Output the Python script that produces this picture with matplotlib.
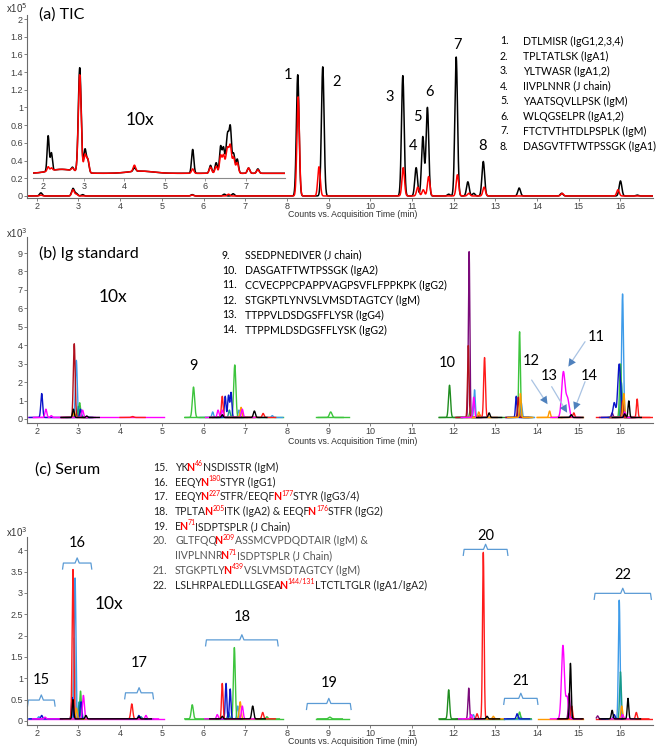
import numpy as np
import matplotlib
matplotlib.use('Agg')
import matplotlib.pyplot as plt

W, H = 663, 750
TXT_FONT = 'Lato'
TICK_FONT = 'Liberation Sans'

COLORS = {'k': '#000000', 'red': '#FF1A1A', 'darkred': '#B0101E', 'blue': '#0A14C8',
          'skyblue': '#3D9BE9', 'green': '#3CC43C', 'dkgreen': '#1E8C1E',
          'magenta': '#FF00FF', 'orange': '#FF9A00', 'purple': '#7A0A7A',
          'teal': '#169A8A', 'gray': '#A8A8A8'}
DRAW_ORDER = ['gray', 'purple', 'skyblue', 'dkgreen', 'green', 'teal', 'blue',
              'darkred', 'red', 'orange', 'magenta', 'k']

# ---------------- (a) TIC: peaks (retention time, height x1e5) ----------------
a_black_rt = [2.10, 2.87, 2.95, 3.10, 5.73, 6.50, 6.71, 8.26, 8.86, 10.78, 11.10, 11.26,
              11.37, 11.88, 12.06, 12.34, 12.48, 12.71, 13.57, 14.59, 16.00, 16.40]
a_black_h = [0.035, 0.085, 0.03, 0.015, 0.015, 0.02, 0.025, 1.37, 1.46, 1.36, 0.32, 0.67,
             1.00, 0.02, 1.57, 0.16, 0.03, 0.39, 0.09, 0.03, 0.17, 0.01]
a_red_rt = [2.10, 2.87, 2.95, 5.73, 6.60, 8.27, 8.77, 10.79, 11.14, 11.27, 11.40, 12.09,
            12.36, 12.73, 14.60, 15.94]
a_red_h = [0.01, 0.07, 0.02, 0.01, 0.02, 1.12, 0.33, 0.32, 0.10, 0.07, 0.22, 0.24,
           0.03, 0.10, 0.03, 0.07]

# inset "10x" (values on the panel-a scale)
ins_base = 0.256
ins_rt = [2.45, 4.40, 2.12, 2.20, 2.72, 2.90, 3.03, 3.10, 4.25, 5.69, 6.13, 6.27,
          6.38, 6.45, 6.52, 6.56, 6.62, 6.70, 6.79, 7.07, 7.30]
ins_black_h = [0.045, 0.025, 0.40, 0.20, 0.04, 1.18, 0.26, 0.14, 0.04, 0.27, 0.09, 0.12,
               0.30, 0.28, 0.18, 0.36, 0.50, 0.22, 0.16, 0.06, 0.05]
ins_red_h = [0.045, 0.025, 0.05, 0.03, 0.03, 1.10, 0.20, 0.15, 0.07, 0.05, 0.07, 0.08,
             0.20, 0.20, 0.14, 0.22, 0.30, 0.18, 0.12, 0.06, 0.04]
ins_sigma = [0.30, 0.30, 0.025, 0.025, 0.03, 0.035, 0.03, 0.03, 0.03, 0.028, 0.03, 0.03,
             0.028, 0.028, 0.028, 0.028, 0.028, 0.03, 0.03, 0.03, 0.03]

a_peak_labels = ['1', '2', '3', '4', '5', '6', '7', '8']
a_label_x = [8.03, 9.18, 10.47, 11.02, 11.14, 11.41, 12.10, 12.68]
a_label_y = [1.37, 1.29, 1.12, 0.565, 0.89, 1.175, 1.706, 0.565]
a_legend = ['DTLMISR (IgG1,2,3,4)', 'TPLTATLSK (IgA1)', 'YLTWASR (IgA1,2)',
            'IIVPLNNR (J chain)', 'YAATSQVLLPSK (IgM)', 'WLQGSELPR (IgA1,2)',
            'FTCTVTHTDLPSPLK (IgM)', 'DASGVTFTWTPSSGK (IgA1)']

# ---------------- (b) Ig standard: (colour, rt, height x1e3, sigma) ----------------
b_segments = [(1.80, 5.05), (5.55, 7.90), (8.70, 9.50), (11.65, 13.20),
              (13.25, 13.93), (14.00, 15.10), (15.42, 16.78)]
b_seg_base = ['magenta', 'green', 'green', 'dkgreen', 'skyblue', 'orange', 'red']
b_base = 0.08
b_peaks = [
    ('blue', 2.12, 1.30, .022), ('magenta', 2.22, 0.45, .022), ('magenta', 2.35, 0.10, .02),
    ('k', 2.88, 0.45, .020), ('darkred', 2.90, 4.00, .022), ('orange', 2.90, 0.30, .02),
    ('skyblue', 2.95, 3.10, .022), ('teal', 3.00, 0.60, .02), ('green', 3.03, 0.80, .02),
    ('blue', 3.05, 0.45, .020), ('magenta', 3.10, 0.40, .022), ('k', 3.20, 0.08, .02),
    ('red', 4.30, 0.05, .030),
    ('green', 5.76, 1.65, .027), ('skyblue', 6.22, 0.30, .02), ('magenta', 6.35, 0.40, .022),
    ('red', 6.45, 1.15, .020), ('magenta', 6.45, 0.40, .022), ('blue', 6.52, 1.15, .02),
    ('blue', 6.60, 1.20, .020), ('teal', 6.62, 0.40, .020), ('blue', 6.66, 1.35, .02),
    ('green', 6.75, 2.85, .026), ('skyblue', 6.85, 0.40, .02), ('orange', 6.90, 0.55, .022),
    ('magenta', 6.93, 0.45, .022), ('k', 7.22, 0.35, .024), ('red', 7.43, 0.22, .022),
    ('k', 6.45, 0.15, .020), ('skyblue', 7.65, 0.10, .02),
    ('green', 9.05, 0.30, .030),
    ('dkgreen', 11.90, 1.75, .024), ('green', 12.40, 0.40, .02), ('purple', 12.37, 9.00, .018),
    ('darkred', 12.35, 3.90, .018), ('skyblue', 12.50, 1.50, .018), ('magenta', 12.48, 1.10, .02),
    ('orange', 12.60, 0.30, .02), ('red', 12.62, 0.15, .02), ('red', 12.74, 3.25, .021),
    ('k', 12.85, 0.25, .02),
    ('blue', 13.50, 1.15, .018), ('darkred', 13.55, 1.10, .018), ('green', 13.58, 4.65, .019),
    ('skyblue', 13.62, 0.80, .02), ('orange', 13.60, 1.30, .018),
    ('orange', 14.30, 0.35, .02), ('magenta', 14.63, 2.45, .040), ('magenta', 14.73, 1.00, .04),
    ('k', 14.82, 0.15, .02), ('red', 14.88, 0.25, .02), ('skyblue', 14.80, 0.10, .02),
    ('purple', 15.80, 0.25, .02), ('blue', 15.85, 0.80, .03), ('blue', 15.97, 2.90, .035),
    ('green', 16.00, 2.90, .022), ('teal', 16.02, 1.90, .02), ('skyblue', 16.05, 6.70, .022),
    ('darkred', 16.05, 0.90, .02), ('orange', 16.08, 1.30, .02), ('magenta', 16.10, 0.30, .02),
    ('k', 16.10, 0.20, .02), ('k', 16.20, 0.90, .018), ('red', 16.40, 1.00, .018),
]
b_peak_labels = ['9', '10', '12', '13', '14', '11']
b_label_x = [5.77, 11.85, 13.85, 14.29, 15.24, 15.41]
b_label_y = [2.87, 3.02, 3.15, 2.35, 2.35, 4.46]
b_arrow_from = [(13.87, 2.11), (14.35, 1.75), (15.15, 2.02), (15.15, 4.19)]
b_arrow_to = [(14.25, 0.80), (14.72, 0.34), (14.89, 0.49), (14.75, 2.84)]
b_legend_num = ['9.', '10.', '11.', '12.', '13.', '14.']
b_legend = ['SSEDPNEDIVER (J chain)', 'DASGATFTWTPSSGK (IgA2)',
            'CCVECPPCPAPPVAGPSVFLFPPKPK (IgG2)', 'STGKPTLYNVSLVMSDTAGTCY (IgM)',
            'TTPPVLDSDGSFFLYSR (IgG4)', 'TTPPMLDSDGSFFLYSK (IgG2)']

# ---------------- (c) Serum ----------------
c_segments = [(1.80, 5.05), (5.55, 7.90), (8.70, 9.50), (11.65, 13.20),
              (13.20, 13.86), (14.02, 15.10), (15.42, 16.78)]
c_seg_base = ['magenta', 'green', 'green', 'dkgreen', 'skyblue', 'orange', 'red']
c_base = 0.05
c_peaks = [
    ('skyblue', 2.05, 0.05, .02), ('blue', 2.12, 0.08, .02), ('magenta', 2.20, 0.04, .02),
    ('gray', 2.90, 1.90, .025), ('blue', 2.85, 0.50, .018), ('k', 2.87, 0.45, .018),
    ('red', 2.87, 3.50, .020), ('skyblue', 2.92, 3.30, .020), ('orange', 2.95, 0.25, .02),
    ('teal', 3.02, 0.40, .02), ('green', 3.05, 0.65, .02), ('blue', 3.06, 0.40, .02),
    ('magenta', 3.12, 0.55, .022), ('k', 3.18, 0.08, .02), ('red', 4.28, 0.35, .024),
    ('blue', 4.45, 0.08, .02), ('teal', 4.50, 0.05, .02), ('k', 4.45, 0.05, .02),
    ('magenta', 4.62, 0.08, .02),
    ('green', 5.73, 0.33, .025), ('magenta', 6.33, 0.10, .02), ('red', 6.45, 0.83, .018),
    ('k', 6.45, 0.06, .02), ('blue', 6.54, 0.83, .018), ('teal', 6.60, 0.15, .02),
    ('blue', 6.64, 0.70, .018), ('green', 6.74, 1.67, .022), ('skyblue', 6.82, 0.30, .02),
    ('orange', 6.88, 0.40, .022), ('magenta', 6.93, 0.30, .022), ('k', 7.18, 0.30, .024),
    ('red', 7.42, 0.15, .022), ('green', 7.52, 0.05, .02),
    ('green', 9.03, 0.04, .03),
    ('dkgreen', 11.88, 0.68, .022), ('purple', 12.36, 0.72, .018), ('magenta', 12.42, 0.10, .02),
    ('skyblue', 12.47, 0.10, .02), ('red', 12.56, 0.12, .02), ('red', 12.71, 3.90, .019),
    ('k', 12.80, 0.06, .02), ('orange', 12.95, 0.06, .02),
    ('blue', 13.52, 0.12, .02), ('green', 13.58, 0.16, .02), ('skyblue', 13.60, 0.05, .02),
    ('magenta', 14.62, 1.72, .035), ('magenta', 14.72, 0.50, .03), ('purple', 14.77, 0.60, .02),
    ('k', 14.80, 1.30, .019), ('red', 14.83, 0.30, .02),
    ('purple', 15.45, 0.07, .02), ('blue', 15.85, 0.10, .02), ('k', 15.80, 0.20, .02),
    ('skyblue', 15.97, 2.78, .02), ('teal', 16.00, 1.10, .02), ('orange', 16.03, 0.30, .02),
    ('magenta', 16.05, 0.10, .02), ('k', 16.18, 0.48, .018), ('red', 16.38, 0.15, .02),
]
c_bracket_labels = ['15', '16', '17', '18', '19', '20', '21', '22']
c_bracket_left = [1.78, 2.62, 4.11, 6.05, 8.47, 12.23, 13.20, 15.37]
c_bracket_right = [2.44, 3.32, 4.80, 7.79, 9.54, 13.30, 14.02, 16.74]
c_bracket_y = [0.49, 3.70, 0.66, 1.90, 0.41, 4.02, 0.53, 2.99]
c_bracket_text_y = [0.96, 4.18, 1.35, 2.44, 0.88, 4.33, 0.94, 3.42]
c_legend_num = ['15.', '16.', '17.', '18.', '19.', '20.', '', '21.', '22.']
c_legend = [
    [('YK', 'n'), ('N', 'N'), ('46', 's'), ('NSDISSTR (IgM)', 'n')],
    [('EEQY', 'n'), ('N', 'N'), ('180', 's'), ('STYR (IgG1)', 'n')],
    [('EEQY', 'n'), ('N', 'N'), ('227', 's'), ('STFR/EEQF', 'n'), ('N', 'N'), ('177', 's'),
     ('STYR (IgG3/4)', 'n')],
    [('TPLTA', 'n'), ('N', 'N'), ('205', 's'), ('ITK (IgA2) & EEQF', 'n'), ('N', 'N'),
     ('176', 's'), ('STFR (IgG2)', 'n')],
    [('E', 'n'), ('N', 'N'), ('71', 's'), ('ISDPTSPLR (J Chain)', 'n')],
    [('GLTFQQ', 'n'), ('N', 'N'), ('209', 's'), ('ASSMCVPDQDTAIR (IgM) &', 'n')],
    [('IIVPLNNR', 'n'), ('N', 'N'), ('71', 's'), ('ISDPTSPLR (J Chain)', 'n')],
    [('STGKPTLY', 'n'), ('N', 'N'), ('439', 's'), ('VSLVMSDTAGTCY (IgM)', 'n')],
    [('LSLHRPALEDLLLGSEA', 'n'), ('N', 'N'), ('144/131', 's'), ('LTCTLTGLR (IgA1/IgA2)', 'n')],
]
c_legend_color = ['#222222', '#222222', '#222222', '#222222', '#222222',
                  '#555555', '#555555', '#555555', '#222222']

XLIM = (1.767, 16.78)


def gauss_sum(x, rts, hs, sigmas):
    y = np.zeros_like(x)
    for rt, h, s in zip(rts, hs, sigmas):
        y += h * np.exp(-0.5 * ((x - rt) / s) ** 2)
    return y


def style_axes(ax, yticks, ylabels):
    for sp in ['top', 'right']:
        ax.spines[sp].set_visible(False)
    for sp in ['left', 'bottom']:
        ax.spines[sp].set_color('#6b6b6b')
        ax.spines[sp].set_linewidth(0.8)
    ax.set_xlim(*XLIM)
    ax.set_xticks(range(2, 17))
    ax.set_yticks(yticks)
    ax.set_yticklabels(ylabels)
    ax.tick_params(axis='both', length=2, width=0.6, color='#6b6b6b', pad=1,
                   labelsize=6.5, labelcolor='#404040')
    for lab in ax.get_xticklabels() + ax.get_yticklabels():
        lab.set_family(TICK_FONT)
    ax.patch.set_alpha(0)


def xlabel(ax, ytop):
    ax.set_xlabel('Counts vs. Acquisition Time (min)', fontsize=6.3, color='#333333',
                  family=TICK_FONT)
    ax.xaxis.set_label_coords(0.52, ytop)


def draw_segments(ax, segments, seg_base, peaks, base):
    for (s0, s1), bcol in zip(segments, seg_base):
        ax.plot([s0, s1], [base, base], color=COLORS[bcol], lw=1.0)
        for col in DRAW_ORDER:
            pk = [p for p in peaks if p[0] == col and s0 <= p[1] <= s1]
            if not pk:
                continue
            lo = max(s0, min(p[1] for p in pk) - 0.3)
            hi = min(s1, max(p[1] for p in pk) + 0.3)
            x = np.linspace(lo, hi, 800)
            y = base + gauss_sum(x, [p[1] for p in pk], [p[2] for p in pk],
                                 [p[3] for p in pk])
            ax.plot(x, y, color=COLORS[col], lw=1.0)


def px(x, y):
    return x / W, 1 - y / H


fig = plt.figure(figsize=(W / 100, H / 100), dpi=100)

# ================= (a) =================
axa = fig.add_axes([27 / W, 1 - 198 / H, 626 / W, 183.4 / H])
xa = np.linspace(1.8, 16.78, 6000)
axa.plot(xa, gauss_sum(xa, a_black_rt, a_black_h, [0.032] * len(a_black_rt)),
         color='k', lw=1.1)
axa.plot(xa, gauss_sum(xa, a_red_rt, a_red_h, [0.03] * len(a_red_rt)),
         color='#FF0000', lw=1.1)
axa.set_ylim(-0.023, 2.05)
style_axes(axa, np.arange(0, 2.01, 0.2), ['0', '0.2', '0.4', '0.6', '0.8', '1', '1.2',
                                           '1.4', '1.6', '1.8', '2'])
xlabel(axa, -0.068)
for t, x, y in zip(a_peak_labels, a_label_x, a_label_y):
    axa.text(x, y, t, fontsize=10.5, family=TXT_FONT, ha='center', va='center')

axi = fig.add_axes([33.3 / W, 1 - 178 / H, (285 - 33.3) / W, (178 - 40) / H])
xi = np.linspace(1.76, 7.96, 3000)
axi.plot(xi, ins_base + gauss_sum(xi, ins_rt, ins_black_h, ins_sigma), color='k', lw=1.1)
axi.plot(xi, ins_base + gauss_sum(xi, ins_rt, ins_red_h, ins_sigma), color='#FF0000', lw=1.1)
axi.set_xlim(1.753, 7.97)
axi.set_ylim(0.203, 1.763)
for sp in ['top', 'right', 'left']:
    axi.spines[sp].set_visible(False)
axi.spines['bottom'].set_color('#8a8a8a')
axi.spines['bottom'].set_linewidth(0.8)
axi.set_yticks([])
axi.set_xticks(range(2, 8))
axi.tick_params(axis='x', length=2, width=0.6, color='#8a8a8a', pad=1, labelsize=6.5,
                labelcolor='#404040')
for lab in axi.get_xticklabels():
    lab.set_family(TICK_FONT)
axi.patch.set_alpha(0)

fig.text(*px(39, 15), '(a) TIC', fontsize=11.5, family=TXT_FONT, va='center')
fig.text(*px(140, 120), '10x', fontsize=12.5, family=TXT_FONT, va='center', ha='center')
fig.text(*px(6, 8), r'x10$^5$', fontsize=7, family=TICK_FONT, color='#333333', va='center')
for i, t in enumerate(a_legend):
    fig.text(*px(500, 41 + 15 * i), f'{i + 1}.', fontsize=7.6, family=TXT_FONT, va='center')
    fig.text(*px(523, 41 + 15 * i), t, fontsize=7.6, family=TXT_FONT, va='center')

# ================= (b) =================
axb = fig.add_axes([27 / W, 1 - 423 / H, 626 / W, 186 / H])
draw_segments(axb, b_segments, b_seg_base, b_peaks, b_base)
axb.set_ylim(-0.22, 9.87)
style_axes(axb, range(0, 10), [str(v) for v in range(10)])
xlabel(axb, -0.073)
for t, x, y in zip(b_peak_labels, b_label_x, b_label_y):
    axb.text(x, y, t, fontsize=10.5, family=TXT_FONT, ha='center', va='center')
for (x0, y0), (x1, y1) in zip(b_arrow_from, b_arrow_to):
    axb.annotate('', xy=(x1, y1), xytext=(x0, y0),
                 arrowprops=dict(arrowstyle='-', color='#A9C3E3', lw=0.9,
                                 shrinkA=0, shrinkB=3))
    xm, ym = x0 + 0.8 * (x1 - x0), y0 + 0.8 * (y1 - y0)
    axb.annotate('', xy=(x1, y1), xytext=(xm, ym),
                 arrowprops=dict(arrowstyle='-|>,head_length=0.55,head_width=0.28',
                                 color='#4F81BD', lw=0.01, shrinkA=0, shrinkB=0))
fig.text(*px(39, 253), '(b) Ig standard', fontsize=11.5, family=TXT_FONT, va='center')
fig.text(*px(113, 297), '10x', fontsize=12.5, family=TXT_FONT, va='center', ha='center')
fig.text(*px(6, 233), r'x10$^3$', fontsize=7, family=TICK_FONT, color='#333333', va='center')
for i, (n, t) in enumerate(zip(b_legend_num, b_legend)):
    fig.text(*px(222, 255 + 15 * i), n, fontsize=7.6, family=TXT_FONT, va='center')
    fig.text(*px(245, 255 + 15 * i), t, fontsize=7.6, family=TXT_FONT, va='center')

# ================= (c) =================
axc = fig.add_axes([27 / W, 1 - 725 / H, 626 / W, 188 / H])
draw_segments(axc, c_segments, c_seg_base, c_peaks, c_base)
axc.set_ylim(-0.094, 4.31)
style_axes(axc, np.arange(0, 4.01, 0.5), ['0', '0.5', '1', '1.5', '2', '2.5', '3', '3.5', '4'])
xlabel(axc, -0.066)
bcol = '#5B9BD5'
for t, xl, xr, y, ty in zip(c_bracket_labels, c_bracket_left, c_bracket_right,
                            c_bracket_y, c_bracket_text_y):
    xc = 0.5 * (xl + xr)
    d, n, e = 0.14, 0.12, 0.05
    axc.plot([xl, xl + 0.02, xc - e, xc, xc + e, xr - 0.02, xr],
             [y - d, y, y, y + n, y, y, y - d], color=bcol, lw=0.9, clip_on=False)
    axc.text(xc, ty, t, fontsize=10.5, family=TXT_FONT, ha='center', va='center')

fig.text(*px(35, 470), '(c) Serum', fontsize=11.5, family=TXT_FONT, va='center')
fig.text(*px(109, 604), '10x', fontsize=12.5, family=TXT_FONT, va='center', ha='center')
fig.text(*px(6, 532), r'x10$^3$', fontsize=7, family=TICK_FONT, color='#333333', va='center')

# rich-text legend: pieces chained left to right on a common baseline
gap = {'n': -0.2, 'N': -1.6, 's': 0.3}
for i, (num, pieces, tc) in enumerate(zip(c_legend_num, c_legend, c_legend_color)):
    yb = 1 - (467.5 + 14.7 * i + 3.5) / H
    if num:
        fig.text(153 / W, yb, num, fontsize=7.6, family=TXT_FONT, va='baseline', color=tc)
    prev = None
    for s, kind in pieces:
        kw = dict(fontsize=7.6, family=TXT_FONT, color=tc, va='baseline', ha='left')
        dy = 0
        if kind == 'N':
            kw.update(color='#FF0000', weight='bold')
        elif kind == 's':
            kw.update(color='#FF0000', fontsize=5)
            dy = 3.3
        if prev is None:
            prev = fig.text(175 / W, yb, s, **kw)
        else:
            prev = axc.annotate(s, xy=(1, yb), xycoords=(prev, 'figure fraction'),
                                xytext=(gap[kind], dy), textcoords='offset points',
                                annotation_clip=False, **kw)

fig.savefig('out.png', dpi=100)
